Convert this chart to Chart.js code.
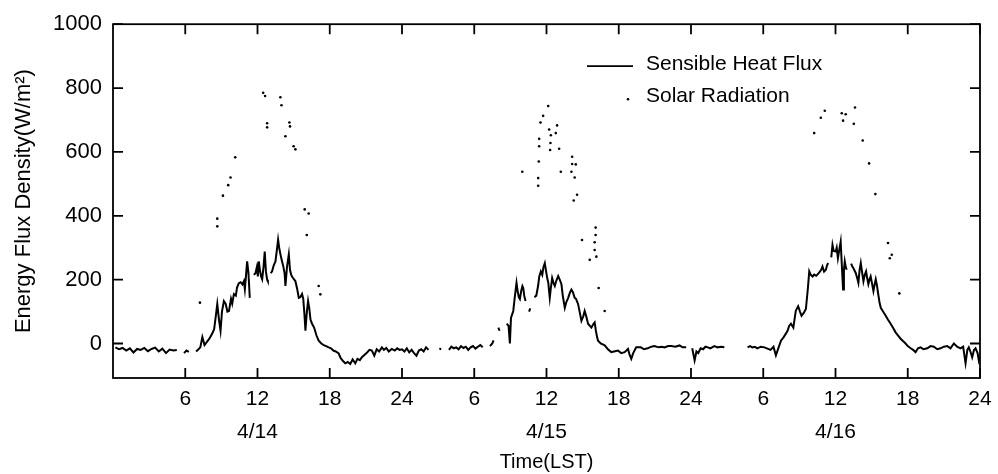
<!DOCTYPE html>
<html>
<head>
<meta charset="utf-8">
<script src="https://cdn.jsdelivr.net/npm/chart.js@4.4.1/dist/chart.umd.min.js"></script>
<style>
  html, body { margin: 0; padding: 0; background: #fff; }
  canvas { display: block; }
</style>
</head>
<body>
<canvas id="flux_chart" width="998" height="474"></canvas>
<script>
// hours since 4/14 00:00 LST, W/m2 (null = missing record)
const heatFlux = [
  [0.2,-12],[0.5,-18],[0.8,-14],[1.1,-22],[1.4,-15],[1.7,-28],[2.0,-17],[2.3,-20],[2.6,-14],[2.9,-24],
  [3.2,-17],[3.5,-13],[3.8,-25],[4.1,-16],[4.4,-30],[4.7,-19],[5.0,-22],[5.3,-20],[5.6,null],[5.9,-30],
  [6.1,-22],[6.3,-26],[6.6,null],[6.9,-25],[7.1,-18],[7.25,-12],[7.42,20],[7.6,-5],[7.8,5],[8.0,15],
  [8.24,31],[8.4,45],[8.55,90],[8.66,124],[8.8,75],[8.93,40],[9.05,100],[9.21,133],[9.35,125],[9.5,100],
  [9.63,102],[9.8,140],[9.9,125],[10.04,155],[10.2,150],[10.3,175],[10.45,189],[10.6,192],[10.75,185],[10.87,195],
  [10.95,170],[11.05,215],[11.14,257],[11.25,220],[11.36,143],[11.5,null],[11.7,215],[11.83,220],[11.95,240],[12.03,210],
  [12.11,257],[12.2,230],[12.3,210],[12.39,201],[12.5,240],[12.6,288],[12.7,225],[12.8,200],[12.86,195],[13.0,null],
  [13.1,220],[13.21,226],[13.35,245],[13.49,257],[13.6,290],[13.71,325],[13.8,300],[13.9,280],[14.04,257],[14.15,240],
  [14.25,220],[14.32,180],[14.45,240],[14.6,279],[14.7,230],[14.8,215],[14.87,210],[14.95,205],[15.05,200],[15.15,195],
  [15.3,170],[15.43,143],[15.55,145],[15.7,155],[15.8,140],[15.9,90],[15.98,40],[16.1,100],[16.2,133],[16.3,110],
  [16.4,75],[16.53,62],[16.7,50],[16.9,25],[17.08,9],[17.3,0],[17.5,-5],[17.7,-8],[17.91,-12],[18.1,-15],
  [18.3,-22],[18.5,-25],[18.74,-31],[18.9,-45],[19.1,-55],[19.29,-62],[19.5,-58],[19.7,-64],[19.9,-50],[20.12,-62],
  [20.3,-48],[20.5,-52],[20.67,-43],[20.9,-35],[21.1,-28],[21.3,-20],[21.5,-22],[21.7,-38],[21.9,-18],[22.1,-25],
  [22.33,-12],[22.5,-20],[22.7,-14],[22.9,-25],[23.15,-17],[23.4,-22],[23.6,-15],[23.8,-20],[24.0,-18],
  [24.2,-25],[24.4,-15],[24.6,-28],[24.8,-20],[25.0,-30],[25.2,-38],[25.4,-22],[25.6,-18],[25.8,-25],[26.0,-12],
  [26.2,-20],[26.5,null],[27.1,-15],[27.25,-18],[27.5,null],[27.9,-20],[28.1,-10],[28.3,-15],[28.5,-12],[28.7,-18],
  [28.9,-8],[29.1,-14],[29.3,-10],[29.5,-20],[29.7,-12],[29.9,-8],[30.1,-16],[30.3,-10],[30.5,-5],[30.7,-12],
  [31.0,null],[31.3,-8],[31.5,0],[31.6,10],[31.8,null],[32.0,50],[32.1,40],[32.3,null],[32.7,62],[32.85,55],
  [32.96,0],[33.05,80],[33.24,102],[33.35,140],[33.51,190],[33.6,165],[33.7,145],[33.79,139],[33.9,165],[34.0,180],
  [34.07,174],[34.15,150],[34.26,133],[34.4,null],[34.55,100],[34.65,110],[34.8,null],[35.0,145],[35.15,150],[35.3,180],
  [35.4,210],[35.53,226],[35.65,215],[35.75,240],[35.86,252],[35.95,230],[36.06,205],[36.15,190],[36.27,143],[36.35,170],
  [36.47,205],[36.58,190],[36.69,180],[36.8,195],[36.97,211],[37.1,200],[37.24,186],[37.35,150],[37.52,112],[37.65,130],
  [37.8,143],[37.95,160],[38.07,169],[38.2,160],[38.34,143],[38.45,140],[38.62,124],[38.75,100],[38.9,71],[39.05,85],
  [39.17,102],[39.3,85],[39.45,62],[39.6,55],[39.73,50],[39.88,60],[40.0,66],[40.1,40],[40.2,20],[40.28,9],
  [40.5,0],[40.83,-6],[41.1,-18],[41.38,-27],[41.6,-25],[41.94,-22],[42.2,-30],[42.49,-27],[42.77,-17],[42.9,-35],
  [43.04,-48],[43.2,-30],[43.45,-12],[43.83,-12],[44.1,-18],[44.4,-15],[44.7,-10],[44.97,-8],[45.3,-12],[45.6,-10],
  [45.8,-12],[46.1,-8],[46.36,-8],[46.7,-10],[47.05,-6],[47.3,-12],[47.6,-12],
  [47.8,null],[48.1,-15],[48.3,-53],[48.45,-25],[48.6,-30],[48.8,-15],[49.0,-18],[49.2,-10],[49.4,-12],[49.6,-15],
  [49.94,-8],[50.2,-12],[50.5,-10],[50.77,-12],[51.0,null],[52.15,-27],[52.4,null],[52.7,-12],[52.9,-8],[53.1,-12],
  [53.3,-10],[53.5,-15],[53.8,-10],[54.1,-12],[54.3,-15],[54.6,-20],[54.85,-10],[55.05,-37],[55.25,-15],[55.47,9],
  [55.7,20],[56.02,40],[56.15,55],[56.3,62],[56.5,50],[56.7,102],[56.8,110],[56.9,117],[57.05,100],[57.18,87],
  [57.35,95],[57.54,108],[57.7,170],[57.82,226],[57.95,215],[58.1,210],[58.23,216],[58.4,212],[58.64,222],[58.8,230],
  [58.92,241],[59.05,225],[59.2,231],[59.3,245],[59.39,252],[59.55,null],[59.65,270],[59.75,309],[59.85,290],[60.02,288],
  [60.1,300],[60.2,267],[60.3,290],[60.43,319],[60.52,250],[60.63,169],[60.7,230],[60.77,257],[60.85,240],[60.93,231],
  [61.1,null],[61.3,250],[61.4,241],[61.5,235],[61.68,221],[61.8,205],[61.9,190],[62.0,230],[62.1,252],[62.2,225],
  [62.32,195],[62.43,215],[62.54,226],[62.63,205],[62.73,186],[62.82,200],[62.92,210],[63.05,185],[63.15,164],[63.25,185],
  [63.34,201],[63.45,180],[63.53,159],[63.65,130],[63.76,112],[63.95,100],[64.17,87],[64.35,75],[64.58,62],[64.8,48],
  [64.99,35],[65.2,25],[65.41,15],[65.6,8],[65.82,0],[66.0,-8],[66.24,-15],[66.45,-20],[66.65,-27],[66.85,-15],
  [67.07,-12],[67.3,-18],[67.62,-15],[67.9,-8],[68.17,-10],[68.45,-18],[68.72,-15],[69.0,-10],[69.28,-8],[69.55,-15],
  [69.83,0],[70.1,-10],[70.38,-15],[70.6,-10],[70.8,-62],[70.95,-20],[71.07,-12],[71.2,-25],[71.35,-43],[71.5,-20],
  [71.63,-15],[71.8,-30],[71.9,-53],[72.0,-40]
];

// scattered solar radiation records that are left in the plot
const solarRadiation = [
  [7.22,128],[8.66,391],[8.66,367],[9.13,463],[9.57,496],[9.76,520],[10.15,583],[12.47,785],[12.63,775],[12.8,677],
  [12.8,690],[13.9,771],[13.99,746],[14.32,649],[14.65,692],[14.7,680],[15.0,618],[15.15,608],[15.92,420],[16.25,407],
  [16.09,340],[17.08,180],[17.22,154],
  [36.14,744],[35.72,713],[35.5,692],[36.88,683],[36.22,670],[36.77,659],[36.36,652],[35.39,641],[36.33,628],[35.39,618],
  [36.3,606],[37.05,610],[38.13,585],[38.13,562],[38.43,561],[35.36,570],[33.99,538],[37.19,538],[38.07,538],[38.34,520],
  [35.31,518],[35.31,494],[38.54,466],[38.26,448],[40.08,363],[40.08,340],[40.0,317],[38.95,324],[40.0,293],[39.59,262],
  [40.14,272],[40.33,174],[40.83,102],
  [59.11,729],[58.78,707],[58.23,659],[60.52,721],[60.85,718],[60.63,698],[61.62,739],[61.52,688],[62.26,636],[62.79,564],
  [63.31,468],[64.36,315],[64.67,278],[64.51,267],[65.3,157]
];

const xTicks = [6, 12, 18, 24, 30, 36, 42, 48, 54, 60, 66, 72];
const yTicks = [0, 200, 400, 600, 800, 1000];
const dayLabels = { 12: '4/14', 36: '4/15', 60: '4/16' };

const FONT = "'Liberation Sans', Arial, Helvetica, sans-serif";

// box with inward ticks on all four sides, like the original plot
const framePlugin = {
  id: 'frame',
  afterDraw(chart) {
    const { ctx, chartArea: a, scales: { x, y } } = chart;
    const len = 10;
    ctx.save();
    ctx.strokeStyle = '#000';
    ctx.lineWidth = 1.8;
    ctx.strokeRect(a.left, a.top, a.right - a.left, a.bottom - a.top);
    ctx.beginPath();
    xTicks.forEach(v => {
      const px = x.getPixelForValue(v);
      ctx.moveTo(px, a.bottom); ctx.lineTo(px, a.bottom - len);
      ctx.moveTo(px, a.top); ctx.lineTo(px, a.top + len);
    });
    yTicks.forEach(v => {
      const py = y.getPixelForValue(v);
      ctx.moveTo(a.left, py); ctx.lineTo(a.left + len, py);
      ctx.moveTo(a.right, py); ctx.lineTo(a.right - len, py);
    });
    ctx.stroke();
    ctx.restore();
  }
};

// legend inside the plot, upper right
const legendPlugin = {
  id: 'innerLegend',
  afterDraw(chart) {
    const { ctx, chartArea: a } = chart;
    const lx = a.left + 474, tx = a.left + 533;
    ctx.save();
    ctx.fillStyle = '#000';
    ctx.strokeStyle = '#000';
    ctx.font = '21px ' + FONT;
    ctx.textBaseline = 'middle';
    ctx.lineWidth = 1.8;
    ctx.beginPath();
    ctx.moveTo(lx, a.top + 42); ctx.lineTo(lx + 46, a.top + 42);
    ctx.stroke();
    ctx.fillText(chart.data.datasets[0].label, tx, a.top + 40);
    ctx.beginPath();
    ctx.arc(lx + 41, a.top + 75, 1.3, 0, Math.PI * 2);
    ctx.fill();
    ctx.fillText(chart.data.datasets[1].label, tx, a.top + 72);
    ctx.restore();
  }
};

new Chart('flux_chart', {
  type: 'scatter',
  plugins: [framePlugin, legendPlugin],
  data: {
    datasets: [
      {
        label: 'Sensible Heat Flux',
        type: 'line',
        data: heatFlux.map(([h, v]) => ({ x: h, y: v })),
        borderColor: '#000',
        borderWidth: 2,
        pointRadius: 0,
        spanGaps: false,
        tension: 0
      },
      {
        label: 'Solar Radiation',
        data: solarRadiation.map(([h, v]) => ({ x: h, y: v })),
        backgroundColor: '#000',
        borderWidth: 0,
        pointRadius: 1.3,
        showLine: false
      }
    ]
  },
  options: {
    responsive: false,
    animation: false,
    layout: { padding: { left: 0, right: 18, top: 20, bottom: 0 } },
    plugins: { legend: { display: false }, tooltip: { enabled: false } },
    scales: {
      x: {
        type: 'linear',
        min: 0,
        max: 72,
        afterBuildTicks: (axis) => { axis.ticks = xTicks.map(v => ({ value: v })); },
        afterFit: (axis) => { axis.height = 96; },
        grid: { display: false, drawTicks: false },
        border: { display: false },
        ticks: {
          color: '#000',
          padding: 5,
          maxRotation: 0,
          autoSkip: false,
          font: { family: FONT, size: 21, lineHeight: 1.55 },
          callback: (v) => {
            const hr = v % 24 === 0 ? '24' : String(v % 24);
            return dayLabels[v] ? [hr, dayLabels[v]] : hr;
          }
        },
        title: {
          display: true,
          text: 'Time(LST)',
          color: '#000',
          padding: 0,
          font: { family: FONT, size: 20 }
        }
      },
      y: {
        min: -108,
        max: 1000,
        afterBuildTicks: (axis) => { axis.ticks = yTicks.map(v => ({ value: v })); },
        afterFit: (axis) => { axis.width = 113; },
        grid: { display: false, drawTicks: false },
        border: { display: false },
        ticks: {
          color: '#000',
          padding: 11,
          font: { family: FONT, size: 22 },
          callback: (v) => String(v)
        },
        title: {
          display: true,
          text: 'Energy Flux Density(W/m²)',
          color: '#000',
          padding: { top: 11, bottom: 0 },
          font: { family: FONT, size: 22 }
        }
      }
    }
  }
});
</script>
</body>
</html>
